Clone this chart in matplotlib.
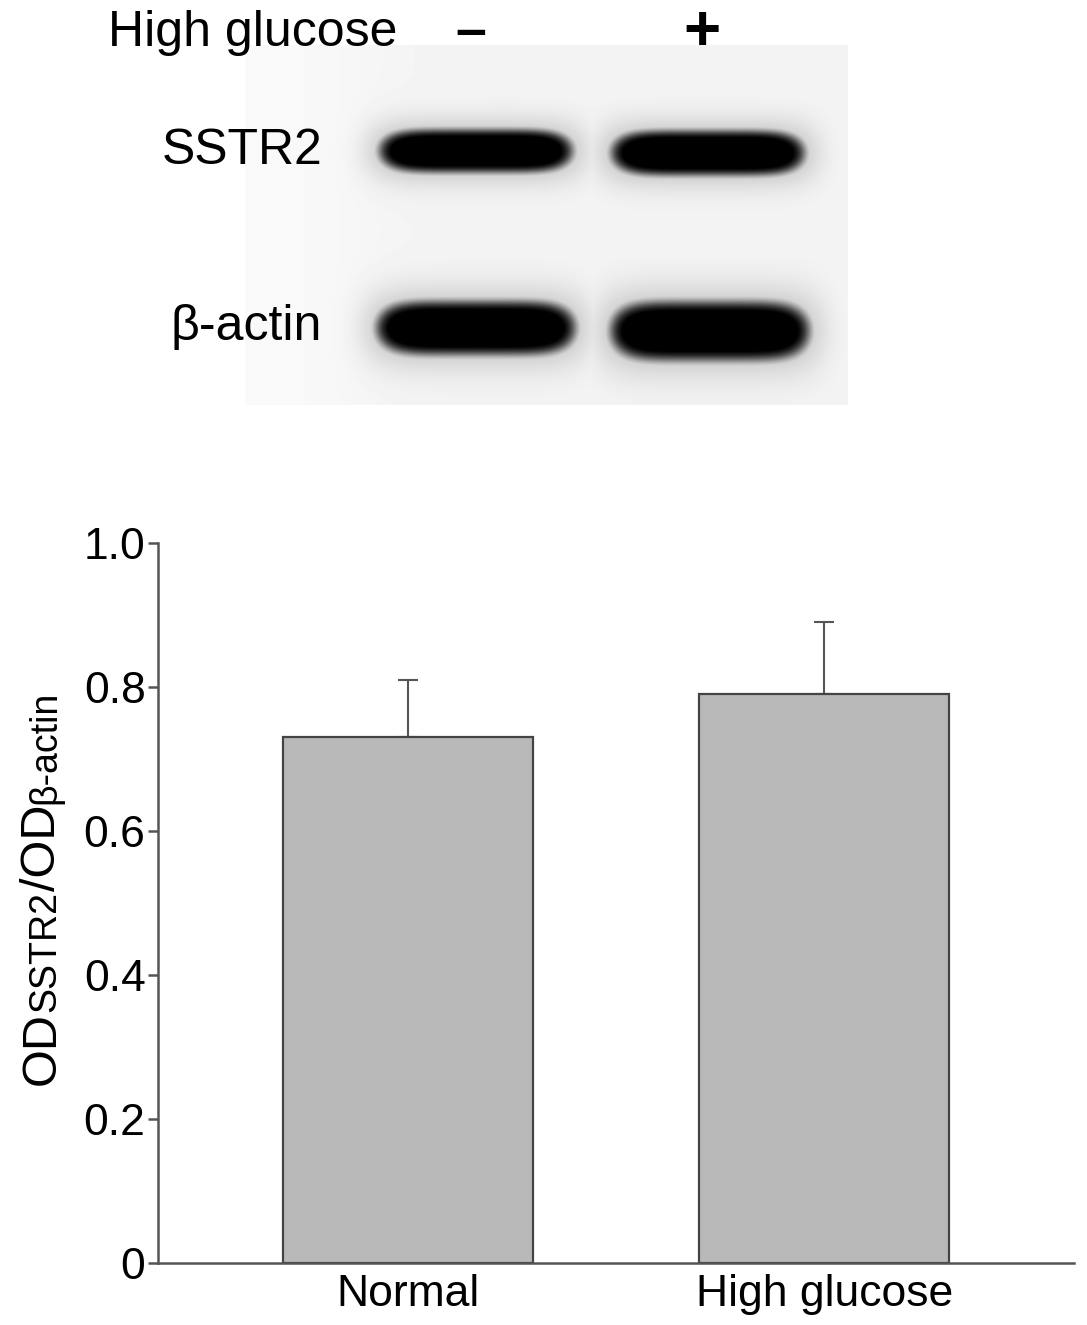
import numpy as np
import matplotlib
matplotlib.use("Agg")
import matplotlib.pyplot as plt

plt.rcParams['font.family'] = ['Liberation Sans', 'DejaVu Sans']

# data
groups = ["Normal", "High glucose"]
ratio = [0.73, 0.79]
ratio_err = [0.08, 0.10]
yticks = [0, 0.2, 0.4, 0.6, 0.8, 1.0]
ytick_labels = ["0", "0.2", "0.4", "0.6", "0.8", "1.0"]

# blot bands: (x centre, y centre, width, height) in figure pixels
sstr2_bands = [(476, 151, 200, 48), (708, 153, 200, 50)]
actin_bands = [(476, 328, 206, 60), (710, 331, 206, 66)]

W, H = 1087, 1325
fig = plt.figure(figsize=(W / 100, H / 100), dpi=100)

# bar chart
ax = fig.add_axes([158 / W, 1 - 1263 / H, (1074 - 158) / W, (1263 - 543) / H])
x = np.arange(len(groups))
ax.bar(x, ratio, width=0.6, color="#b9b9b9", edgecolor="#444444", linewidth=1.6, zorder=2)
ax.errorbar(x, ratio, yerr=[[0] * len(ratio), ratio_err], fmt="none",
            ecolor="#555555", elinewidth=1.5, capsize=7.5, capthick=1.5, zorder=1)
ax.set_xlim(-0.6, 1.6)
ax.set_ylim(0, 1.0)
ax.set_yticks(yticks)
ax.set_yticklabels(ytick_labels)
ax.set_xticks(x)
ax.set_xticklabels(groups)
for s in ["top", "right"]:
    ax.spines[s].set_visible(False)
for s in ["left", "bottom"]:
    ax.spines[s].set_color("#555555")
    ax.spines[s].set_linewidth(1.8)
ax.tick_params(axis="y", length=7, width=1.8, color="#555555", labelsize=32, pad=2)
ax.tick_params(axis="x", length=0, labelsize=32, pad=8)

# overlay in pixel coords for blot and labels
ov = fig.add_axes([0, 0, 1, 1])
ov.axis("off")
ov.patch.set_alpha(0)

# blot image
bx0, bx1, by0, by1 = 245, 848, 45, 405
gx, gy = np.meshgrid(np.arange(bx0, bx1) + 0.5, np.arange(by0, by1) + 0.5)
dark = np.zeros_like(gx)
for cx, cy, bw, bh in sstr2_bands + actin_bands:
    d = (np.abs(gx - cx) / (bw / 2)) ** 6 + (np.abs(gy - cy) / (bh / 2)) ** 2
    core = 1 / (1 + np.exp((d - 0.7) / 0.2))
    halo = np.exp(-np.maximum(d - 1, 0) * 0.7)
    dark = np.maximum(dark, np.clip(1.2 * core, 0, 1))
    dark = np.maximum(dark, 0.14 * halo)
bg = 0.975 - 0.02 / (1 + np.exp(-(gx - 360) / 25))
img = bg * (1 - dark)
ov.imshow(img, cmap="gray", vmin=0, vmax=1, extent=(bx0, bx1, by1, by0),
          interpolation="bilinear", aspect="auto", zorder=0)
ov.set_xlim(0, W)
ov.set_ylim(H, 0)

ov.text(108, 33, "High glucose", fontsize=36, ha="left", va="center")
ov.text(471, 33, "–", fontsize=40, ha="center", va="center", fontweight="bold")
ov.text(702, 33, "+", fontsize=46, ha="center", va="center", fontweight="bold")
ov.text(322, 151, "SSTR2", fontsize=36, ha="right", va="center")
ov.text(322, 327, "β-actin", fontsize=36, ha="right", va="center")

# y label built from pieces with different sizes
pieces = [("OD", 35), ("SSTR2", 27), ("/OD", 35), ("β-actin", 27)]
fig.canvas.draw()
renderer = fig.canvas.get_renderer()
ypos = 1085
for txt, fs in pieces:
    t = ov.text(55, ypos, txt, fontsize=fs, rotation=90, rotation_mode="anchor",
                ha="left", va="baseline")
    bb = t.get_window_extent(renderer=renderer)
    ypos -= bb.height

fig.savefig("out.png", dpi=100)
